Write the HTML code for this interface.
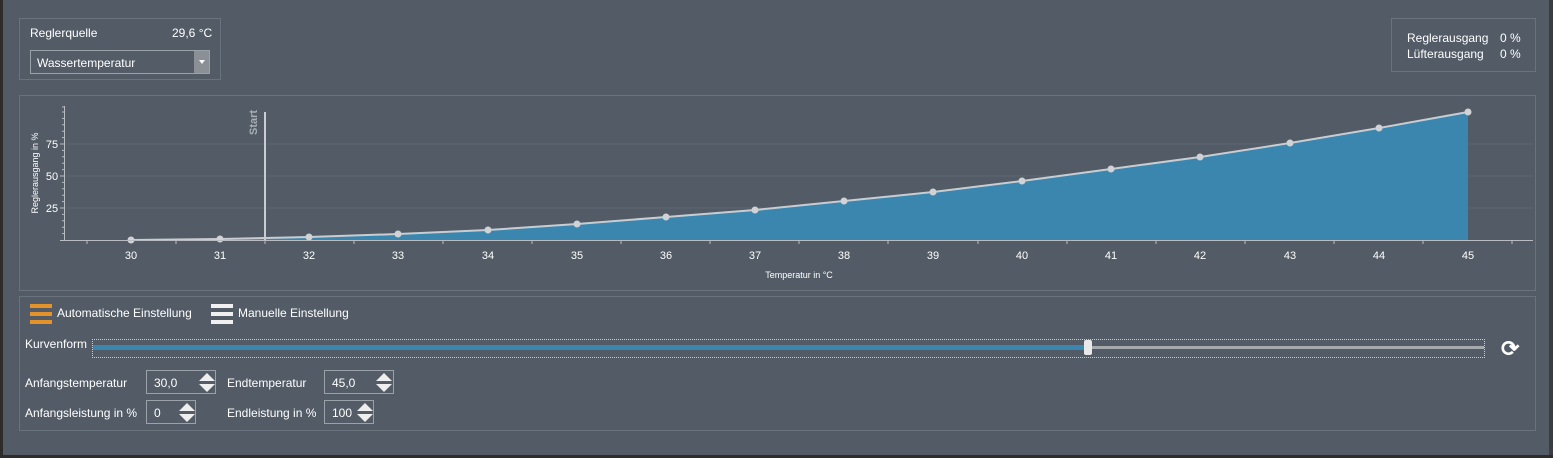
<!DOCTYPE html>
<html><head><meta charset="utf-8"><style>
body{margin:0;width:1553px;height:458px;background:#525b66;font-family:"Liberation Sans",sans-serif;color:#fff;position:relative;overflow:hidden;font-size:12px}
.b{position:absolute;border:1px solid #6a737d;box-sizing:border-box}
.t{position:absolute;white-space:nowrap}
.inp{position:absolute;border:1px solid #9aa1a8;box-sizing:border-box;height:24px;background:#535c67}
</style></head><body>
<div style="position:absolute;left:0;top:0;width:3px;height:458px;background:#2e2b2b"></div>
<div style="position:absolute;right:0;top:0;width:4px;height:458px;background:#3a3d42"></div>
<div style="position:absolute;left:0;top:455px;width:1553px;height:3px;background:#2e2b2b"></div>

<div class="b" style="left:19px;top:18px;width:202px;height:62px"></div>
<div class="t" style="left:30px;top:26px">Reglerquelle</div>
<div class="t" style="left:172px;top:26px">29,6 °C</div>
<div class="inp" style="left:30px;top:50px;width:180px;height:24px"><span class="t" style="left:6px;top:5px">Wassertemperatur</span><div style="position:absolute;right:0;top:0;width:15px;height:22px;background:#8b9097"></div><div style="position:absolute;right:4px;top:9px;border:3px solid transparent;border-top:4px solid #fff"></div></div>

<div class="b" style="left:1391px;top:18px;width:145px;height:54px"></div>
<div class="t" style="left:1407px;top:31px">Reglerausgang</div><div class="t" style="left:1500px;top:31px">0 %</div>
<div class="t" style="left:1407px;top:47px">Lüfterausgang</div><div class="t" style="left:1500px;top:47px">0 %</div>

<div class="b" style="left:19px;top:95px;width:1517px;height:196px"></div>
<svg style="position:absolute;left:0;top:0" width="1553" height="300">
<g stroke="#5d6671" stroke-width="1">
<line x1="64" y1="208" x2="1533" y2="208"/><line x1="64" y1="176" x2="1533" y2="176"/><line x1="64" y1="144" x2="1533" y2="144"/>
</g>
<polygon fill="#3a86ae" points="131,240 220,239 309,237 398,234 488,230 577,224 666,217 755,210 844,201 933,192 1022,181 1111,169 1200,157 1290,143 1379,128 1468,112 1468,240"/>
<line x1="265" y1="112" x2="265" y2="240" stroke="#c9ccd0" stroke-width="2"/>
<text x="257" y="135" transform="rotate(-90 257 135)" fill="#a9aeb4" font-size="11" font-weight="bold" font-family="Liberation Sans">Start</text>
<polyline fill="none" stroke="#c9ccd0" stroke-width="2" points="131,240 220,239 309,237 398,234 488,230 577,224 666,217 755,210 844,201 933,192 1022,181 1111,169 1200,157 1290,143 1379,128 1468,112"/>
<g fill="#d0d2d5"><circle cx="131" cy="240" r="3.5"/><circle cx="220" cy="239" r="3.5"/><circle cx="309" cy="237" r="3.5"/><circle cx="398" cy="234" r="3.5"/><circle cx="488" cy="230" r="3.5"/><circle cx="577" cy="224" r="3.5"/><circle cx="666" cy="217" r="3.5"/><circle cx="755" cy="210" r="3.5"/><circle cx="844" cy="201" r="3.5"/><circle cx="933" cy="192" r="3.5"/><circle cx="1022" cy="181" r="3.5"/><circle cx="1111" cy="169" r="3.5"/><circle cx="1200" cy="157" r="3.5"/><circle cx="1290" cy="143" r="3.5"/><circle cx="1379" cy="128" r="3.5"/><circle cx="1468" cy="112" r="3.5"/></g>
<g stroke="#b8bcc1" stroke-width="1">
<line x1="60" y1="240.5" x2="1533" y2="240.5"/><line x1="64.5" y1="106" x2="64.5" y2="240"/>
<line x1="60" y1="208" x2="64" y2="208"/><line x1="60" y1="176" x2="64" y2="176"/><line x1="60" y1="144" x2="64" y2="144"/>
<line x1="62" y1="233.6" x2="64" y2="233.6"/><line x1="62" y1="227.2" x2="64" y2="227.2"/><line x1="62" y1="220.8" x2="64" y2="220.8"/><line x1="62" y1="214.4" x2="64" y2="214.4"/><line x1="62" y1="201.6" x2="64" y2="201.6"/><line x1="62" y1="195.2" x2="64" y2="195.2"/><line x1="62" y1="188.8" x2="64" y2="188.8"/><line x1="62" y1="182.4" x2="64" y2="182.4"/><line x1="62" y1="169.6" x2="64" y2="169.6"/><line x1="62" y1="163.2" x2="64" y2="163.2"/><line x1="62" y1="156.8" x2="64" y2="156.8"/><line x1="62" y1="150.4" x2="64" y2="150.4"/><line x1="62" y1="137.6" x2="64" y2="137.6"/><line x1="62" y1="131.2" x2="64" y2="131.2"/><line x1="62" y1="124.8" x2="64" y2="124.8"/><line x1="62" y1="118.4" x2="64" y2="118.4"/><line x1="62" y1="112" x2="64" y2="112"/><line x1="62" y1="107" x2="64" y2="107"/>
<line x1="87" y1="240" x2="87" y2="244"/><line x1="176" y1="240" x2="176" y2="244"/><line x1="265" y1="240" x2="265" y2="244"/><line x1="354" y1="240" x2="354" y2="244"/><line x1="443" y1="240" x2="443" y2="244"/><line x1="532" y1="240" x2="532" y2="244"/><line x1="621" y1="240" x2="621" y2="244"/><line x1="710" y1="240" x2="710" y2="244"/><line x1="799" y1="240" x2="799" y2="244"/><line x1="888" y1="240" x2="888" y2="244"/><line x1="978" y1="240" x2="978" y2="244"/><line x1="1067" y1="240" x2="1067" y2="244"/><line x1="1156" y1="240" x2="1156" y2="244"/><line x1="1245" y1="240" x2="1245" y2="244"/><line x1="1334" y1="240" x2="1334" y2="244"/><line x1="1423" y1="240" x2="1423" y2="244"/><line x1="1512" y1="240" x2="1512" y2="244"/>
</g>
<g fill="#fff" font-size="11" font-family="Liberation Sans" text-anchor="middle">
<text x="131" y="259">30</text><text x="220" y="259">31</text><text x="309" y="259">32</text><text x="398" y="259">33</text><text x="488" y="259">34</text><text x="577" y="259">35</text><text x="666" y="259">36</text><text x="755" y="259">37</text><text x="844" y="259">38</text><text x="933" y="259">39</text><text x="1022" y="259">40</text><text x="1111" y="259">41</text><text x="1200" y="259">42</text><text x="1290" y="259">43</text><text x="1379" y="259">44</text><text x="1468" y="259">45</text>
<text x="52" y="212">25</text><text x="52" y="180">50</text><text x="52" y="148">75</text>
<text x="799" y="278" font-size="9">Temperatur in °C</text>
<text x="0" y="0" font-size="9" transform="translate(38 173) rotate(-90)">Reglerausgang in %</text>
</g>
</svg>

<div class="b" style="left:19px;top:296px;width:1517px;height:135px"></div>
<div style="position:absolute;left:30px;top:304px;width:22px;height:4px;background:#e6922a;box-shadow:0 8px 0 #e6922a,0 16px 0 #e6922a"></div>
<div class="t" style="left:57px;top:306px">Automatische Einstellung</div>
<div style="position:absolute;left:211px;top:304px;width:22px;height:4px;background:#f0f0f0;box-shadow:0 8px 0 #f0f0f0,0 16px 0 #f0f0f0"></div>
<div class="t" style="left:238px;top:306px">Manuelle Einstellung</div>
<div class="t" style="left:25px;top:337px">Kurvenform</div>
<div style="position:absolute;left:92px;top:339px;width:1393px;height:19px;border:1px dotted #c8ccd0;box-sizing:border-box"></div>
<div style="position:absolute;left:93px;top:345px;width:995px;height:5px;background:#3a86ae"></div>
<div style="position:absolute;left:1088px;top:346px;width:396px;height:3px;background:#a5a9ae"></div>
<div style="position:absolute;left:1084px;top:340px;width:8px;height:15px;background:#e8e8e8;border-radius:2px"></div>
<div class="t" style="left:1501px;top:336px;font-size:22px;font-weight:bold">⟳</div>

<div class="t" style="left:25px;top:376px">Anfangstemperatur</div>
<div class="inp" style="left:146px;top:370px;width:70px"><span class="t" style="left:7px;top:5px">30,0</span></div>
<div class="t" style="left:227px;top:376px">Endtemperatur</div>
<div class="inp" style="left:324px;top:370px;width:70px"><span class="t" style="left:7px;top:5px">45,0</span></div>
<div class="t" style="left:25px;top:406px">Anfangsleistung in %</div>
<div class="inp" style="left:146px;top:400px;width:50px"><span class="t" style="left:7px;top:5px">0</span></div>
<div class="t" style="left:227px;top:406px">Endleistung in %</div>
<div class="inp" style="left:324px;top:400px;width:50px"><span class="t" style="left:7px;top:5px">100</span></div>
<svg style="position:absolute;left:0;top:0" width="420" height="430">
<g fill="#eee"><polygon points="199,381 207,373 215,381"/><polygon points="199,384 207,392 215,384"/>
<polygon points="376,381 384,373 392,381"/><polygon points="376,384 384,392 392,384"/>
<polygon points="179,411 187,403 195,411"/><polygon points="179,414 187,422 195,414"/>
<polygon points="357,411 365,403 373,411"/><polygon points="357,414 365,422 373,414"/></g>
</svg>
</body></html>
